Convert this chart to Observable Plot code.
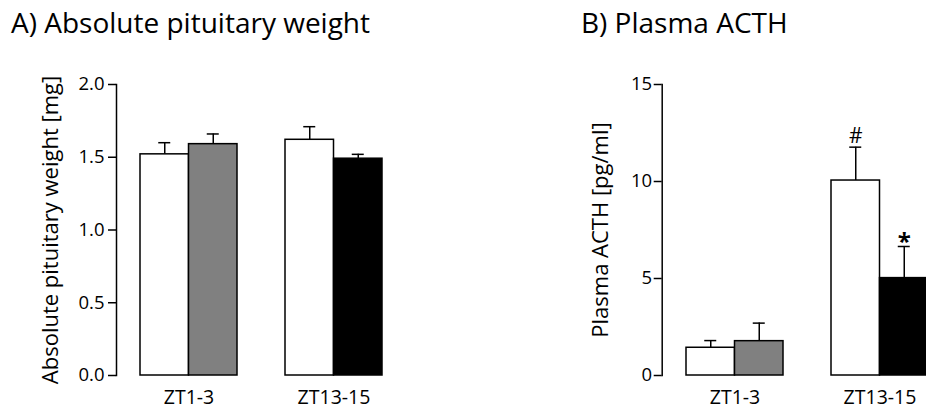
<!DOCTYPE html>
<html><head><meta charset="utf-8">
<script src="https://cdn.jsdelivr.net/npm/d3@7"></script>
<script src="https://cdn.jsdelivr.net/npm/@observablehq/plot@0.6"></script>
<style>
html,body{margin:0;padding:0;overflow:hidden;background:#fff}
#wrap{position:relative;width:926px;height:410px;overflow:hidden;font-family:"Open Sans",sans-serif;color:#000;background:#fff}
.title{position:absolute;font-size:28px;white-space:nowrap;line-height:1}
.panel{position:absolute;top:0}
.panel svg{max-width:none !important}
</style></head><body>
<div id="wrap">
  <div class="title" style="left:11px;top:8px">A) Absolute pituitary weight</div>
  <div class="title" style="left:581px;top:8px">B) Plasma ACTH</div>
  <div class="panel" id="pa" style="left:0px;width:463px"></div>
  <div class="panel" id="pb" style="left:463px;width:490px"></div>
</div>
<script>
// ---- data ----
const groups = ["ZT1-3", "ZT1-3", "ZT13-15", "ZT13-15"];
const sides = ["left", "right", "left", "right"];
const fills = ["white", "#808080", "white", "black"];
const weightMean = [1.52, 1.59, 1.62, 1.49];
const weightSem = [0.08, 0.07, 0.09, 0.03];
const acthMean = [1.43, 1.77, 10.05, 5.02];
const acthSem = [0.37, 0.93, 1.72, 1.63];
const acthNotes = ["", "", "#", "*"];
const weightTicks = [0, 0.5, 1.0, 1.5, 2.0];
const acthTicks = [0, 5, 10, 15];
const groupDomain = ["ZT1-3", "ZT13-15"];

function rows(mean, sem, notes) {
  return groups.map((g, i) => ({group: g, side: sides[i], fill: fills[i], mean: mean[i], sem: sem[i], top: mean[i] + sem[i], note: notes ? notes[i] : ""}));
}

const half = 48.5;
function panel({data, yDomain, yTicks, tickFormat, label, labelDx, width, marginLeft, marginRight, tickPadding}) {
  const L = data.filter(d => d.side === "left");
  const R = data.filter(d => d.side === "right");
  return Plot.plot({
    width, height: 410,
    marginTop: 84, marginBottom: 35, marginLeft, marginRight,
    style: {fontFamily: "Open Sans, sans-serif", fontSize: "18px", color: "black", background: "transparent", overflow: "visible", maxWidth: "none"},
    x: {type: "band", domain: groupDomain, paddingInner: 0.331, paddingOuter: 0.1655},
    y: {domain: yDomain},
    color: {type: "identity"},
    marks: [
      Plot.ruleX(L, {x: "group", y1: "mean", y2: "top", dx: -24.25, stroke: "black", strokeWidth: 1.5}),
      Plot.ruleX(R, {x: "group", y1: "mean", y2: "top", dx: 24.25, stroke: "black", strokeWidth: 1.5}),
      Plot.tickY(L, {x: "group", y: "top", insetLeft: 18.25, insetRight: 66.75, stroke: "black", strokeWidth: 1.5}),
      Plot.tickY(R, {x: "group", y: "top", insetLeft: 66.75, insetRight: 18.25, stroke: "black", strokeWidth: 1.5}),
      Plot.barY(L, {x: "group", y: "mean", fill: "fill", stroke: "black", strokeWidth: 1.5, insetLeft: 0, insetRight: half}),
      Plot.barY(R, {x: "group", y: "mean", fill: "fill", stroke: "black", strokeWidth: 1.5, insetLeft: half, insetRight: 0}),
      Plot.text(L, {x: "group", y: "top", text: "note", dx: -24.25, dy: -4, lineAnchor: "bottom", fontSize: 21}),
      Plot.text(R, {x: "group", y: "top", text: "note", dx: 24.25, dy: 4, lineAnchor: "bottom", fontSize: 24, fontWeight: "bold"}),
      Plot.frame({anchor: "left", stroke: "black", strokeWidth: 1.5}),
      Plot.axisY({ticks: yTicks, tickFormat, tickSize: 8, tickPadding, strokeWidth: 1.5, fontSize: 18.5, label: null}),
      Plot.text([label], {frameAnchor: "left", text: d => d, rotate: -90, dx: labelDx, textAnchor: "middle", lineAnchor: "middle", fontSize: 22}),
      Plot.axisX({tickSize: 0, tickPadding: 15, fontSize: 19.5, label: null})
    ]
  });
}

document.getElementById("pa").append(panel({
  data: rows(weightMean, weightSem), yDomain: [0, 2], yTicks: weightTicks,
  tickFormat: d3.format(".1f"), label: "Absolute pituitary weight [mg]", labelDx: -66,
  width: 463, marginLeft: 116, marginRight: 57, tickPadding: 4
}));
document.getElementById("pb").append(panel({
  data: rows(acthMean, acthSem, acthNotes), yDomain: [0, 15], yTicks: acthTicks,
  tickFormat: d3.format("d"), label: "Plasma ACTH [pg/ml]", labelDx: -61,
  width: 490, marginLeft: 198.7, marginRight: 1.3, tickPadding: 2
}));
</script>
</body></html>
